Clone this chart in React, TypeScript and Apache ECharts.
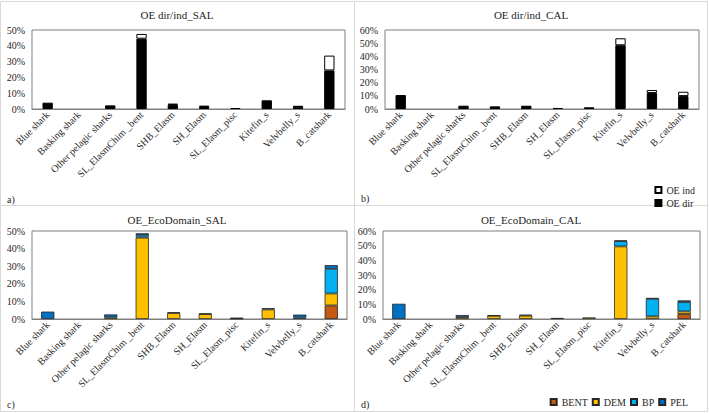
import { useEffect, useRef } from 'react';
import * as echarts from 'echarts';

const categories = ['Blue shark', 'Basking shark', 'Other pelagic sharks', 'SL_ElasmChim _bent', 'SHB_Elasm', 'SH_Elasm', 'SL_Elasm_pisc', 'Kitefin_s', 'Velvbelly_s', 'B_catshark'];

// Panel a) OE dir/ind_SAL (%)
const salDir = [4.0, 0, 2.3, 44.5, 2.6, 1.3, 0.6, 5.5, 1.4, 24.4];
const salInd = [0, 0, 0, 3.0, 0.8, 0.8, 0, 0, 0.5, 9.4];
// Panel b) OE dir/ind_CAL (%)
const calDir = [10.6, 0, 2.5, 2.0, 2.5, 0.8, 1.3, 48.4, 12.1, 9.8];
const calInd = [0, 0, 0, 0, 0, 0, 0, 5.3, 2.3, 3.3];
// Panel c) OE_EcoDomain_SAL (%)
const salBent = [0, 0, 0, 0, 0, 0, 0, 0, 0, 7.7];
const salDem = [0, 0, 0.9, 46.2, 3.4, 2.8, 0.3, 5.4, 0, 6.8];
const salBp = [0, 0, 0, 1.3, 0, 0, 0, 0, 0.8, 14.0];
const salPel = [4.2, 0, 1.7, 1.2, 0.4, 0.4, 0.3, 0.8, 1.7, 2.1];
// Panel d) OE_EcoDomain_CAL (%)
const calBent = [0, 0, 0, 0, 0, 0, 0, 0, 0, 3.4];
const calDem = [0, 0, 1.3, 2.2, 2.3, 0, 1.1, 49.5, 1.8, 1.8];
const calBp = [0, 0, 0, 0, 0, 0, 0, 3.6, 12.0, 6.3];
const calPel = [10.4, 0, 1.4, 0.3, 0.6, 0.7, 0, 0.5, 0.5, 1.2];

const titles = ['OE dir/ind_SAL', 'OE dir/ind_CAL', 'OE_EcoDomain_SAL', 'OE_EcoDomain_CAL'];
const panelLabels = ['a)', 'b)', 'c)', 'd)'];
const yMax = [50, 60, 50, 60];

const FONT = '"Liberation Serif", "Times New Roman", serif';
const TXT = '#262626';

function bar(name: string, data: number[], idx: number, color: string, barWidth: string, borderColor: string, borderWidth: number) {
  return {
    type: 'bar',
    name,
    xAxisIndex: idx,
    yAxisIndex: idx,
    stack: 's' + idx,
    barWidth,
    data: data.map((v) => (v === 0 ? null : v)),
    itemStyle: { color, borderColor, borderWidth },
  };
}

export default function App() {
  const ref = useRef<HTMLDivElement>(null);
  useEffect(() => {
    document.body.style.margin = '0';
    const chart = echarts.init(ref.current!, null, { renderer: 'svg' });
    const grids = [
      { left: 32, top: 30, width: 313, height: 79 },
      { left: 385, top: 30, width: 314, height: 79 },
      { left: 32, top: 231, width: 315, height: 88 },
      { left: 383, top: 231, width: 317, height: 88 },
    ];
    const titlePos = [
      [177, 15],
      [531, 15],
      [177, 220],
      [531, 220],
    ];
    const labelPos = [
      [7, 199],
      [361, 198],
      [7, 404],
      [361, 404],
    ];
    const frames = [
      [0.5, 1.5, 354, 204],
      [354.5, 1.5, 353, 204],
      [0.5, 205.5, 354, 206],
      [354.5, 205.5, 353, 206],
    ];
    const graphic: any[] = [];
    frames.forEach((f) =>
      graphic.push({
        type: 'rect',
        shape: { x: f[0], y: f[1], width: f[2], height: f[3] },
        style: { fill: 'none', stroke: '#d9d9d9', lineWidth: 1 },
        silent: true,
      })
    );
    titles.forEach((t, i) =>
      graphic.push({
        type: 'text',
        x: titlePos[i][0],
        y: titlePos[i][1],
        style: { text: t, font: `11px ${FONT}`, fill: TXT, textAlign: 'center', textVerticalAlign: 'middle' },
      })
    );
    panelLabels.forEach((t, i) =>
      graphic.push({
        type: 'text',
        x: labelPos[i][0],
        y: labelPos[i][1],
        style: { text: t, font: `10px ${FONT}`, fill: TXT, textAlign: 'left', textVerticalAlign: 'middle' },
      })
    );

    const option: any = {
      animation: false,
      grid: grids.map((g) => ({ ...g, show: true, borderColor: '#7f7f7f', borderWidth: 1, backgroundColor: 'transparent' })),
      xAxis: grids.map((_, i) => ({
        type: 'category',
        gridIndex: i,
        data: categories,
        axisTick: { show: false },
        axisLine: { show: true, lineStyle: { color: '#7f7f7f', width: 1 } },
        axisLabel: { rotate: 45, interval: 0, fontSize: 10, fontFamily: FONT, color: TXT, margin: 4 },
      })),
      yAxis: grids.map((_, i) => ({
        type: 'value',
        gridIndex: i,
        min: 0,
        max: yMax[i],
        interval: 10,
        splitLine: { show: false },
        axisLine: { show: false },
        axisTick: { show: false },
        axisLabel: { formatter: '{value}%', fontSize: 10, fontFamily: FONT, color: TXT, margin: 7 },
      })),
      legend: [
        {
          data: ['OE ind', 'OE dir'],
          orient: 'vertical',
          right: 9,
          top: 180,
          itemWidth: 6,
          itemHeight: 6,
          itemGap: 3,
          icon: 'rect',
          selectedMode: false,
          textStyle: { fontSize: 10, fontFamily: FONT, color: TXT },
        },
        {
          data: ['BENT', 'DEM', 'BP', 'PEL'],
          orient: 'horizontal',
          right: 16,
          top: 392,
          itemWidth: 6,
          itemHeight: 6,
          itemGap: 4,
          icon: 'rect',
          selectedMode: false,
          textStyle: { fontSize: 10, fontFamily: FONT, color: TXT },
        },
      ],
      series: [
        bar('OE dir', salDir, 0, '#000000', '33%', '#000000', 1),
        bar('OE ind', salInd, 0, '#ffffff', '33%', '#000000', 1),
        bar('OE dir', calDir, 1, '#000000', '33%', '#000000', 1),
        bar('OE ind', calInd, 1, '#ffffff', '33%', '#000000', 1),
        bar('BENT', salBent, 2, '#C55A11', '42%', '#262626', 0.8),
        bar('DEM', salDem, 2, '#FFC000', '42%', '#262626', 0.8),
        bar('BP', salBp, 2, '#00B0F0', '42%', '#262626', 0.8),
        bar('PEL', salPel, 2, '#0070C0', '42%', '#262626', 0.8),
        bar('BENT', calBent, 3, '#C55A11', '42%', '#262626', 0.8),
        bar('DEM', calDem, 3, '#FFC000', '42%', '#262626', 0.8),
        bar('BP', calBp, 3, '#00B0F0', '42%', '#262626', 0.8),
        bar('PEL', calPel, 3, '#0070C0', '42%', '#262626', 0.8),
      ],
      graphic,
    };
    chart.setOption(option);
    return () => chart.dispose();
  }, []);
  return <div ref={ref} style={{ width: 709, height: 413 }} />;
}
